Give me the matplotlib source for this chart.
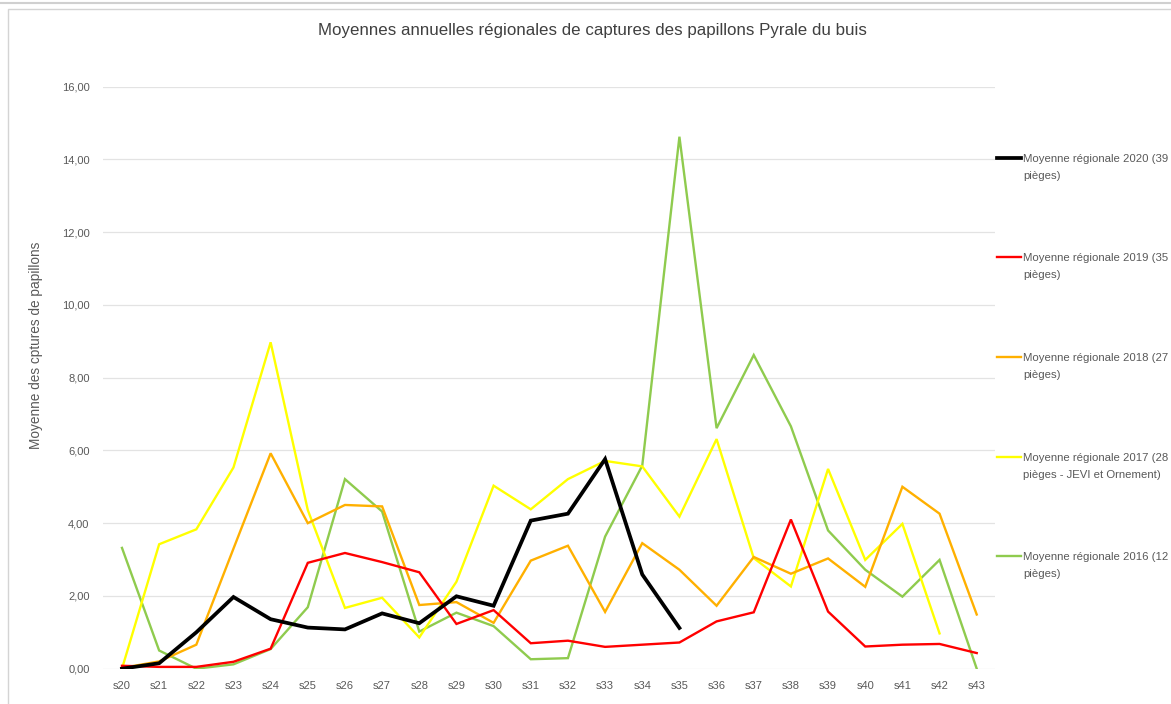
import matplotlib.pyplot as plt
from matplotlib.lines import Line2D
from matplotlib.patches import Rectangle

weeks = ["s%d" % w for w in range(20, 44)]

# weekly regional means per year
m2020 = [0.00, 0.15, 1.00, 1.97, 1.36, 1.13, 1.08, 1.52, 1.25, 1.99, 1.73, 4.07,
         4.26, 5.76, 2.59, 1.12]
m2019 = [0.08, 0.05, 0.05, 0.19, 0.55, 2.91, 3.18, 2.93, 2.65, 1.23, 1.61, 0.70,
         0.77, 0.60, 0.66, 0.72, 1.30, 1.55, 4.10, 1.57, 0.61, 0.66, 0.68, 0.43]
m2018 = [0.02, 0.20, 0.66, 3.30, 5.92, 4.00, 4.50, 4.46, 1.75, 1.83, 1.26, 2.97,
         3.38, 1.56, 3.45, 2.72, 1.73, 3.07, 2.61, 3.03, 2.25, 5.00, 4.26, 1.49]
m2017 = [0.00, 3.42, 3.83, 5.53, 8.97, 4.36, 1.67, 1.95, 0.86, 2.39, 5.03, 4.38,
         5.21, 5.71, 5.56, 4.18, 6.31, 3.04, 2.26, 5.49, 2.99, 3.98, 0.97]
m2016 = [3.32, 0.50, 0.00, 0.12, 0.54, 1.69, 5.21, 4.32, 1.02, 1.54, 1.17, 0.26,
         0.29, 3.63, 5.58, 14.62, 6.61, 8.62, 6.66, 3.80, 2.72, 1.98, 2.99, 0.00]

labels = ["Moyenne régionale 2020 (39\npièges)",
          "Moyenne régionale 2019 (35\npièges)",
          "Moyenne régionale 2018 (27\npièges)",
          "Moyenne régionale 2017 (28\npièges - JEVI et Ornement)",
          "Moyenne régionale 2016 (12\npièges)"]
series = [m2020, m2019, m2018, m2017, m2016]
colors = ["#000000", "#FF0000", "#FFB000", "#FFFF00", "#8FCB4E"]
widths = [2.7, 1.7, 1.7, 1.7, 1.7]

plt.rcParams['font.family'] = ['Liberation Sans', 'DejaVu Sans']
txt = "#595959"

fig = plt.figure(figsize=(11.71, 7.04), dpi=100)
ax = fig.add_axes([103.4 / 1171, 1 - 668.7 / 704, (995.3 - 103.4) / 1171, (668.7 - 86.5) / 704])

# draw oldest first so 2020 sits on top
for vals, c, lw in reversed(list(zip(series, colors, widths))):
    ax.plot(range(len(vals)), vals, color=c, lw=lw, solid_joinstyle='miter', zorder=3)

ax.set_xlim(-0.5, len(weeks) - 0.5)
ax.set_ylim(0, 16)
ax.set_xticks(range(len(weeks)))
ax.set_xticklabels(weeks)
yt = range(0, 17, 2)
ax.set_yticks(yt)
ax.set_yticklabels(["%d,00" % v for v in yt])
ax.tick_params(length=0, labelsize=8, colors=txt, pad=10)
ax.tick_params(axis='x', pad=9)
ax.grid(axis='y', color="#E3E3E3", lw=0.9, zorder=0)
for s in ax.spines.values():
    s.set_visible(False)
ax.set_ylabel("Moyenne des cptures de papillons", fontsize=9.8, color=txt)
ax.yaxis.set_label_coords((43 - 103.4) / 891.9, 0.555)

fig.text(0.5 * (318 + 866) / 1171, 1 - 31 / 704,
         "Moyennes annuelles régionales de captures des papillons Pyrale du buis",
         ha='center', va='center', fontsize=12.2, color="#404040")

# legend on the right, handle on first line
leg_y = [158, 257, 357, 457, 556]
for y, lab, c, lw in zip(leg_y, labels, colors, widths):
    fig.add_artist(Line2D([997 / 1171, 1021 / 1171], [1 - y / 704] * 2, color=c, lw=lw))
    fig.text(1023 / 1171, 1 - (y - 4) / 704, lab, ha='left', va='top',
             fontsize=8.2, color=txt, linespacing=1.85)

# chart frame
fig.add_artist(Line2D([0, 1], [1 - 3 / 704] * 2, color="#D0D0D0", lw=1.5))
fig.add_artist(Rectangle((8 / 1171, -0.05), 1.2, 1.05 - 9 / 704, fill=False,
                         edgecolor="#D4D4D4", lw=1.0, transform=fig.transFigure))

fig.savefig("out.png", dpi=100)
